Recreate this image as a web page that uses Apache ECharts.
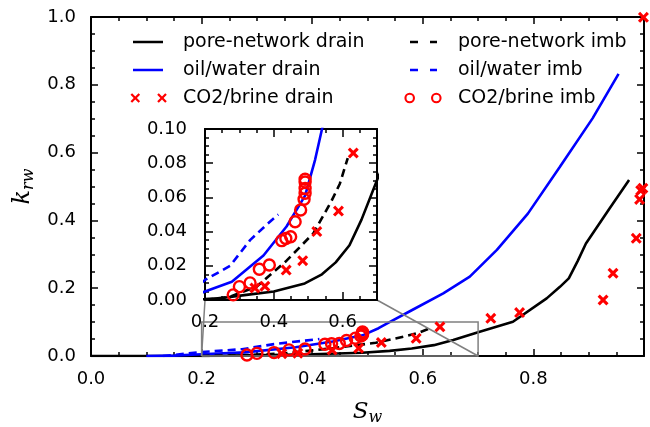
<!DOCTYPE html>
<html><head><meta charset="utf-8">
<script src="https://cdn.jsdelivr.net/npm/echarts@6/dist/echarts.min.js"></script>
<style>html,body{margin:0;padding:0;background:#fff}#c{width:650px;height:427px}</style>
</head><body><div id="c"></div>
<script>
// ---- data (Sw, krw) ----
const poreNetworkDrain = [[0.0,0],[0.1,0],[0.2,0.0005],[0.25,0.0012],[0.32,0.003],[0.40,0.005],[0.49,0.0097],[0.54,0.015],[0.58,0.022],[0.62,0.032],[0.655,0.047],[0.70,0.07],[0.763,0.101],[0.824,0.170],[0.848,0.204],[0.864,0.229],[0.88,0.28],[0.895,0.332],[0.938,0.436],[0.973,0.519]];
const poreNetworkImb = [[0.20,0],[0.273,0.002],[0.35,0.0078],[0.437,0.023],[0.515,0.039],[0.568,0.058],[0.592,0.068],[0.615,0.083]];
const oilWaterDrain = [[0.10,0],[0.15,0.001],[0.20,0.005],[0.278,0.0107],[0.37,0.026],[0.437,0.043],[0.491,0.061],[0.52,0.082],[0.539,0.099],[0.58,0.135],[0.637,0.185],[0.685,0.234],[0.734,0.313],[0.79,0.42],[0.848,0.558],[0.907,0.701],[0.954,0.832]];
const oilWaterImb = [[0.13,0],[0.20,0.0117],[0.273,0.020],[0.331,0.035],[0.379,0.044],[0.413,0.050]];
const co2BrineDrain = [[0.345,0.007],[0.374,0.008],[0.436,0.0175],[0.484,0.023],[0.525,0.040],[0.588,0.052],[0.631,0.086],[0.723,0.111],[0.775,0.128],[0.926,0.165],[0.944,0.244],[0.986,0.347],[0.992,0.462],[0.994,0.488],[0.998,0.495],[0.999,0.999]];
const co2BrineImb = [[0.282,0.003],[0.300,0.0078],[0.331,0.010],[0.358,0.018],[0.387,0.0205],[0.423,0.0347],[0.435,0.036],[0.449,0.037],[0.462,0.0458],[0.478,0.0526],[0.488,0.0589],[0.491,0.0624],[0.491,0.0653],[0.491,0.069],[0.491,0.0706]];
const mainTicks = {min:0, max:1, step:0.2, minor:0.05};
const insetX = {min:0.2, max:0.7, step:0.2, minor:0.05};
const insetY = {min:0, max:0.1, step:0.02};
const zoomBox = {x0:0.2, x1:0.7, y0:0, y1:0.1};
const mainXLabels = ['0.0','0.2','0.4','0.6','0.8'];
const insetXLabels = ['0.2','0.4','0.6'];

const FONT = 'DejaVu Sans';
const xPath = 'path://M0,2 L2,0 L5,3 L8,0 L10,2 L7,5 L10,8 L8,10 L5,7 L2,10 L0,8 L3,5 Z';
const speck = ' M0,0 L0.01,0 L0,0.01 Z M52,12 L51.99,12 L52,11.99 Z';
function xIcon(cx, cy, h, d){
  return `M${cx-h},${cy-h+d} L${cx-h+d},${cy-h} L${cx},${cy-d} L${cx+h-d},${cy-h} L${cx+h},${cy-h+d} L${cx+d},${cy} L${cx+h},${cy+h-d} L${cx+h-d},${cy+h} L${cx},${cy+d} L${cx-h+d},${cy+h} L${cx-h},${cy+h-d} L${cx-d},${cy} Z`;
}
function ring(cx, cy, r1, r2){
  return `M${cx-r1},${cy} A${r1},${r1} 0 1,0 ${cx+r1},${cy} A${r1},${r1} 0 1,0 ${cx-r1},${cy} Z M${cx-r2},${cy} A${r2},${r2} 0 1,1 ${cx+r2},${cy} A${r2},${r2} 0 1,1 ${cx-r2},${cy} Z`;
}
const iconSolid = 'path://M7,4.75 H37 V7.25 H7 Z' + speck;
const iconDash = 'path://M9,4.75 H17 V7.25 H9 Z M29,4.75 H36 V7.25 H29 Z' + speck;
const iconX = 'path://' + xIcon(9.3,6,4.8,1.6) + ' ' + xIcon(36,6,4.8,1.6) + speck;
const iconO = 'path://' + ring(8.7,6,5.3,3.2) + ' ' + ring(35.3,6,5.3,3.2) + speck;

const tickStyle = {color:'#000', width:1.5};
function axisCommon(extra){
  return Object.assign({
    type:'value',
    splitLine:{show:false},
    axisLine:{show:true, onZero:false, lineStyle:{color:'#000', width:2}},
    axisTick:{show:true, inside:true, length:7, lineStyle:tickStyle},
    minorTick:{show:true, splitNumber:4, length:4, lineStyle:tickStyle},
    minorSplitLine:{show:false},
    axisLabel:{show:false}
  }, extra);
}
const lblList = (list, dec, margin) => ({show:true, color:'#000', fontFamily:FONT, fontSize:18, margin:margin,
  formatter: v => { const s = v.toFixed(dec); return list.indexOf(s) >= 0 ? s : ''; }});
const lblAll = (dec, margin) => ({show:true, color:'#000', fontFamily:FONT, fontSize:18, margin:margin,
  formatter: v => v.toFixed(dec)});

const chart = echarts.init(document.getElementById('c'), null, {renderer:'canvas'});
function lineS(name, data, color, dashed, xi, yi, z){
  return {name, type:'line', data, xAxisIndex:xi, yAxisIndex:yi, showSymbol:false, symbol:'none', z,
    lineStyle:{color, width:2.6, type: dashed ? [8,5] : 'solid'}, itemStyle:{color}, clip:true, animation:false};
}
function scatS(name, data, kind, xi, yi, z){
  return kind==='x'
    ? {name, type:'scatter', data, xAxisIndex:xi, yAxisIndex:yi, symbol:xPath, symbolSize:11, z, clip:true,
       itemStyle:{color:'#ff0000', opacity:1}, animation:false}
    : {name, type:'scatter', data, xAxisIndex:xi, yAxisIndex:yi, symbol:'circle', symbolSize:11, z, clip:true,
       itemStyle:{color:'rgba(0,0,0,0)', borderColor:'#ff0000', borderWidth:2.4, opacity:1}, animation:false};
}
const series = [];
[[0,0,2],[2,2,12]].forEach(([xi,yi,z]) => {
  series.push(lineS('pore-network drain', poreNetworkDrain, '#000', false, xi, yi, z));
  series.push(lineS('oil/water drain', oilWaterDrain, '#0000ff', false, xi, yi, z));
  series.push(lineS('pore-network imb', poreNetworkImb, '#000', true, xi, yi, z));
  series.push(lineS('oil/water imb', oilWaterImb, '#0000ff', true, xi, yi, z));
  series.push(scatS('CO2/brine drain', co2BrineDrain, 'x', xi, yi, z+1));
  series.push(scatS('CO2/brine imb', co2BrineImb, 'o', xi, yi, z+1));
});

const legendText = {color:'#000', fontFamily:FONT, fontSize:19, lineHeight:20};
const insetTick = {show:true, inside:true, length:8, lineStyle:tickStyle};
const insetMinor = {show:true, inside:true, length:4, lineStyle:tickStyle};
const option = {
  animation:false,
  backgroundColor:'#fff',
  grid:[
    {left:91, top:17, right:6, bottom:71, containLabel:false, outerBoundsMode:'none', z:0},
    {left:205, top:129, width:172, height:171, containLabel:false, outerBoundsMode:'none', show:true, backgroundColor:'#fff', borderWidth:0, z:10}
  ],
  xAxis:[
    axisCommon({gridIndex:0, position:'bottom', min:mainTicks.min, max:mainTicks.max, interval:mainTicks.step,
      axisLabel:lblList(mainXLabels,1,14), name:'{i|S}{s|w}', nameLocation:'middle', nameGap:42,
      nameTextStyle:{rich:{i:{fontFamily:'DejaVu Serif', fontStyle:'italic', fontSize:23, color:'#000'},
                          s:{fontFamily:'DejaVu Serif', fontStyle:'italic', fontSize:16, color:'#000', padding:[12,0,0,0]}}}}),
    axisCommon({gridIndex:0, position:'top', min:mainTicks.min, max:mainTicks.max, interval:mainTicks.step}),
    // inset: long ticks + labels every 0.2, short ticks every 0.05
    axisCommon({gridIndex:1, position:'bottom', min:insetX.min, max:insetX.max, interval:insetX.step, z:11,
      minorTick:{show:false}, axisTick:insetTick, axisLabel:lblList(insetXLabels,1,13)}),
    axisCommon({gridIndex:1, position:'top', min:insetX.min, max:insetX.max, interval:insetX.step, z:11,
      minorTick:{show:false}, axisTick:insetTick}),
    axisCommon({gridIndex:1, position:'bottom', min:insetX.min, max:insetX.max, interval:insetX.minor, z:11,
      minorTick:{show:false}, axisTick:insetMinor}),
    axisCommon({gridIndex:1, position:'top', min:insetX.min, max:insetX.max, interval:insetX.minor, z:11,
      minorTick:{show:false}, axisTick:insetMinor})
  ],
  yAxis:[
    axisCommon({gridIndex:0, position:'left', min:mainTicks.min, max:mainTicks.max, interval:mainTicks.step,
      axisLabel:lblAll(1,15), name:'{i|k}{s|rw}', nameLocation:'middle', nameGap:52, nameRotate:90,
      nameTextStyle:{rich:{i:{fontFamily:'DejaVu Serif', fontStyle:'italic', fontSize:24, color:'#000'},
                          s:{fontFamily:'DejaVu Serif', fontStyle:'italic', fontSize:16, color:'#000', padding:[12,0,0,0]}}}}),
    axisCommon({gridIndex:0, position:'right', min:mainTicks.min, max:mainTicks.max, interval:mainTicks.step}),
    axisCommon({gridIndex:1, position:'left', min:insetY.min, max:insetY.max, interval:insetY.step, z:11,
      axisTick:insetTick, minorTick:Object.assign({splitNumber:4}, insetMinor), axisLabel:lblAll(2,18)}),
    axisCommon({gridIndex:1, position:'right', min:insetY.min, max:insetY.max, interval:insetY.step, z:11,
      axisTick:insetTick, minorTick:Object.assign({splitNumber:4}, insetMinor)})
  ],
  legend:[
    {orient:'vertical', left:126, top:32, padding:0, itemGap:8, itemWidth:52, itemHeight:12, symbolKeepAspect:false,
     selectedMode:false, textStyle:legendText,
     data:[{name:'pore-network drain', icon:iconSolid, itemStyle:{color:'#000', borderWidth:0}},
           {name:'oil/water drain', icon:iconSolid, itemStyle:{color:'#0000ff', borderWidth:0}},
           {name:'CO2/brine drain', icon:iconX, itemStyle:{color:'#ff0000', borderWidth:0}}]},
    {orient:'vertical', left:401, top:32, padding:0, itemGap:8, itemWidth:52, itemHeight:12, symbolKeepAspect:false,
     selectedMode:false, textStyle:legendText,
     data:[{name:'pore-network imb', icon:iconDash, itemStyle:{color:'#000', borderWidth:0}},
           {name:'oil/water imb', icon:iconDash, itemStyle:{color:'#0000ff', borderWidth:0}},
           {name:'CO2/brine imb', icon:iconO, itemStyle:{color:'#ff0000', borderWidth:0}}]}
  ],
  series
};
chart.setOption(option);

// zoom box + connectors (positions via the axes)
const m = (x,y) => chart.convertToPixel({xAxisIndex:0, yAxisIndex:0}, [x,y]);
const ins = (x,y) => chart.convertToPixel({xAxisIndex:2, yAxisIndex:2}, [x,y]);
const a = m(zoomBox.x0, zoomBox.y0), b = m(zoomBox.x0, zoomBox.y1), c = m(zoomBox.x1, zoomBox.y1), d = m(zoomBox.x1, zoomBox.y0);
const ia = ins(insetX.min, insetY.min), id = ins(insetX.max, insetY.min);
const gray = {stroke:'#808080', lineWidth:1.5, fill:null};
chart.setOption({graphic:[
  {type:'polyline', z:3, silent:true, shape:{points:[a,b,c,d,a]}, style:gray},
  {type:'line', z:3, silent:true, shape:{x1:a[0], y1:a[1], x2:ia[0], y2:ia[1]}, style:gray},
  {type:'line', z:3, silent:true, shape:{x1:d[0], y1:d[1], x2:id[0], y2:id[1]}, style:gray}
]});
</script>
</body></html>
